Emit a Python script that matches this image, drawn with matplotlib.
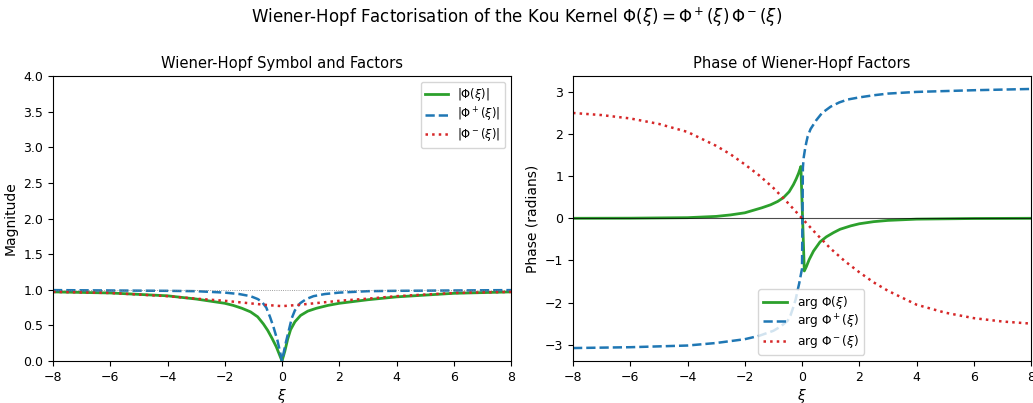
import matplotlib
matplotlib.use('Agg')
import matplotlib.pyplot as plt

# magnitude panel
xi_phi = [-8, -6, -4, -3, -2, -1.7, -1.4, -1.1, -0.85, -0.65, -0.5, -0.35, -0.2, -0.1, 0,
          0.1, 0.2, 0.3, 0.45, 0.65, 0.9, 1.2, 1.6, 2, 3, 4, 6, 8]
abs_phi = [0.97, 0.955, 0.915, 0.87, 0.81, 0.78, 0.74, 0.69, 0.62, 0.52, 0.43, 0.32, 0.2, 0.1, 0.0,
           0.14, 0.31, 0.44, 0.55, 0.64, 0.7, 0.74, 0.78, 0.81, 0.86, 0.9, 0.95, 0.97]

xi_plus = [-8, -6, -4, -3, -2, -1.5, -1.1, -0.85, -0.7, -0.55, -0.42, -0.3, -0.16, -0.08, 0,
           0.07, 0.14, 0.25, 0.34, 0.45, 0.63, 0.85, 1.1, 1.5, 2, 3, 4, 6, 8]
abs_plus = [0.995, 0.99, 0.985, 0.98, 0.96, 0.94, 0.91, 0.87, 0.83, 0.75, 0.62, 0.48, 0.29, 0.15, 0.0,
            0.14, 0.27, 0.45, 0.6, 0.71, 0.81, 0.87, 0.91, 0.94, 0.96, 0.98, 0.985, 0.99, 0.995]

xi_minus = [-8, -6, -4, -3, -2, -1, -0.5, 0, 0.5, 1, 2, 3, 4, 6, 8]
abs_minus = [0.97, 0.955, 0.91, 0.875, 0.845, 0.805, 0.785, 0.77, 0.785, 0.805,
             0.845, 0.875, 0.91, 0.955, 0.97]

# phase panel
xi_arg = [-8, -6, -4, -3, -2.5, -2, -1.7, -1.4, -1.1, -0.85, -0.65, -0.45, -0.3, -0.2, -0.12, -0.04,
          0.08, 0.15, 0.25, 0.4, 0.63, 0.85, 1.1, 1.33, 1.7, 2.0, 2.5, 3.0, 4, 6, 8]
arg_phi = [0.0, 0.003, 0.015, 0.045, 0.08, 0.13, 0.19, 0.25, 0.32, 0.4, 0.49, 0.63, 0.8, 0.94, 1.07, 1.23,
           -1.25, -1.15, -0.98, -0.78, -0.56, -0.44, -0.34, -0.26, -0.18, -0.13, -0.08, -0.05,
           -0.02, -0.005, 0.0]

xi_argp = [-8, -6, -4, -3, -2, -1.5, -1, -0.75, -0.5, -0.4, -0.3, -0.22, -0.15, -0.1, -0.03, 0.0,
           0.03, 0.06, 0.1, 0.15, 0.2, 0.3, 0.5, 0.7, 1.0, 1.3, 1.6, 2, 2.5, 3, 4, 6, 8]
arg_plus = [-3.08, -3.06, -3.02, -2.96, -2.87, -2.79, -2.67, -2.57, -2.43, -2.3, -2.1, -1.92, -1.7,
            -1.55, -1.3, -1.2,
            1.2, 1.45, 1.62, 1.8, 1.95, 2.12, 2.33, 2.5, 2.65, 2.75, 2.82, 2.87, 2.92, 2.96,
            3.0, 3.04, 3.07]

xi_argm = [-8, -7, -6, -5, -4, -3, -2.5, -2, -1.5, -1, -0.5, 0,
           0.5, 1, 1.5, 2, 2.5, 3, 4, 5, 6, 7, 8]
arg_minus = [2.5, 2.45, 2.37, 2.24, 2.05, 1.72, 1.52, 1.28, 1.02, 0.72, 0.37, 0.0,
             -0.37, -0.72, -1.02, -1.28, -1.52, -1.72, -2.05, -2.24, -2.37, -2.45, -2.5]

green = '#2ca02c'
blue = '#1f77b4'
red = '#d62728'

plt.rcParams['xtick.labelsize'] = 9
plt.rcParams['ytick.labelsize'] = 9

fig = plt.figure(figsize=(10.33, 4.03), dpi=100)
ax1 = fig.add_axes([0.0513, 0.1042, 0.4434, 0.7072])
ax2 = fig.add_axes([0.5547, 0.1042, 0.4434, 0.7072])

ax1.plot(xi_phi, abs_phi, color=green, lw=2, label=r'$|\Phi(\xi)|$')
ax1.plot(xi_plus, abs_plus, color=blue, lw=1.8, ls='--', label=r'$|\Phi^+(\xi)|$')
ax1.plot(xi_minus, abs_minus, color=red, lw=1.8, ls=':', label=r'$|\Phi^-(\xi)|$')
ax1.axhline(1, color='gray', lw=0.6, ls=':')
ax1.set_xlim(-8, 8)
ax1.set_ylim(0, 4)
ax1.set_xlabel(r'$\xi$', fontsize=10, labelpad=2)
ax1.set_ylabel('Magnitude', fontsize=10)
ax1.set_title('Wiener-Hopf Symbol and Factors', fontsize=10.6)
ax1.legend(loc='upper right', fontsize=8.3, labelspacing=0.2)

ax2.plot(xi_arg, arg_phi, color=green, lw=2, label=r'$\arg\,\Phi(\xi)$')
ax2.plot(xi_argp, arg_plus, color=blue, lw=1.8, ls='--', label=r'$\arg\,\Phi^+(\xi)$')
ax2.plot(xi_argm, arg_minus, color=red, lw=1.8, ls=':', label=r'$\arg\,\Phi^-(\xi)$')
ax2.axhline(0, color='k', lw=0.8, alpha=0.7)
ax2.set_xlim(-8, 8)
ax2.set_xlabel(r'$\xi$', fontsize=10, labelpad=2)
ax2.set_ylabel('Phase (radians)', fontsize=10)
ax2.set_title('Phase of Wiener-Hopf Factors', fontsize=10.6)
ax2.legend(loc='lower center', bbox_to_anchor=(0.52, 0.0), fontsize=8.8, labelspacing=0.15)

fig.suptitle(r'Wiener-Hopf Factorisation of the Kou Kernel $\Phi(\xi) = \Phi^+(\xi)\,\Phi^-(\xi)$',
             fontsize=12, y=0.985)
fig.savefig('out.png', dpi=100)
